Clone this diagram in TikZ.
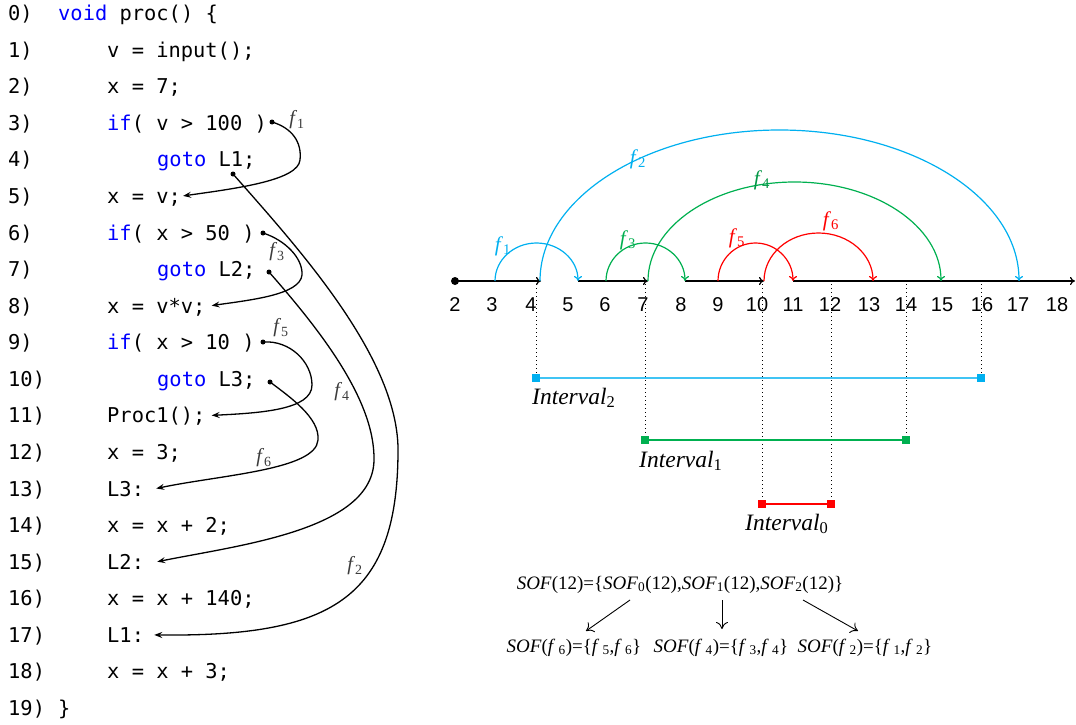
\documentclass[tikz,border=0pt]{standalone}
\usepackage{fontspec}
\setmainfont{Liberation Serif}
\setmonofont{DejaVu Sans Mono}
\newfontfamily\numfont{Liberation Sans}
\usetikzlibrary{arrows.meta,calc}

\definecolor{kwblue}{RGB}{0,0,255}
\definecolor{fblue}{RGB}{0,176,240}
\definecolor{fgreen}{RGB}{0,176,80}
\definecolor{fred}{RGB}{255,0,0}
\definecolor{lblgray}{RGB}{60,60,60}

\newcommand{\kwd}[1]{\textcolor{kwblue}{#1}}
\newcommand{\fsub}[1]{\textit{f}\textsubscript{#1}}
\newcommand{\sof}{\textit{SOF}}

\tikzset{
  codeline/.style={anchor=west, inner sep=0pt, text height=15pt, text depth=0pt,
    font=\fontsize{20.4}{24}\selectfont\ttfamily},
  flowdot/.style={circle, fill=black, inner sep=0pt, minimum size=5pt},
  codearrow/.style={line width=1.3pt, -{Stealth[length=8pt,width=6pt,inset=3pt]}},
  codelbl/.style={text=lblgray, font=\fontsize{20}{22}\selectfont},
  numlbl/.style={font=\fontsize{20}{22}\selectfont\numfont, inner sep=0pt},
  axisline/.style={line width=1.2pt, -{To[length=5pt,width=8pt]}},
  arcarrow/.style={line width=1.2pt, -{To[length=5pt,width=8pt]}},
  arclbl/.style={font=\fontsize{21}{23}\selectfont, inner sep=0pt},
  guide/.style={line width=0.8pt, dash pattern=on 1pt off 3pt},
  endsq/.style={rectangle, inner sep=0pt, minimum size=8pt},
  intlbl/.style={anchor=base west, inner sep=0pt, font=\fontsize{23.5}{25}\selectfont},
  soflbl/.style={anchor=base, inner sep=0pt, font=\fontsize{19}{21}\selectfont},
  sofarrow/.style={line width=0.9pt, -{To[length=7pt,width=12pt]}}
}

\begin{document}
\begin{tikzpicture}[x=1pt,y=-1pt]
\useasboundingbox (0,0) rectangle (1076,725);
\fill[white] (0,0) rectangle (1076,725);

% ---------- source listing ----------
\node[codeline] (n0)  at (8,13.0)  {0)};
\node[codeline] (n1)  at (8,49.6)  {1)};
\node[codeline] (n2)  at (8,86.2)  {2)};
\node[codeline] (n3)  at (8,122.7) {3)};
\node[codeline] (n4)  at (8,159.3) {4)};
\node[codeline] (n5)  at (8,195.9) {5)};
\node[codeline] (n6)  at (8,232.5) {6)};
\node[codeline] (n7)  at (8,269.1) {7)};
\node[codeline] (n8)  at (8,305.6) {8)};
\node[codeline] (n9)  at (8,342.2) {9)};
\node[codeline] (n10) at (8,378.8) {10)};
\node[codeline] (n11) at (8,415.4) {11)};
\node[codeline] (n12) at (8,452.0) {12)};
\node[codeline] (n13) at (8,488.5) {13)};
\node[codeline] (n14) at (8,525.1) {14)};
\node[codeline] (n15) at (8,561.7) {15)};
\node[codeline] (n16) at (8,598.3) {16)};
\node[codeline] (n17) at (8,634.9) {17)};
\node[codeline] (n18) at (8,671.4) {18)};
\node[codeline] (n19) at (8,708.0) {19)};

\node[codeline] (c0)  at (58,13.0)   {\kwd{void} proc() \{};
\node[codeline] (c1)  at (107,49.6)  {v = input();};
\node[codeline] (c2)  at (107,86.2)  {x = 7;};
\node[codeline] (c3)  at (107,122.7) {\kwd{if}( v > 100 )};
\node[codeline] (c4)  at (157,159.3) {\kwd{goto} L1;};
\node[codeline] (c5)  at (107,195.9) {x = v;};
\node[codeline] (c6)  at (107,232.5) {\kwd{if}( x > 50 )};
\node[codeline] (c7)  at (157,269.1) {\kwd{goto} L2;};
\node[codeline] (c8)  at (107,305.6) {x = v*v;};
\node[codeline] (c9)  at (107,342.2) {\kwd{if}( x > 10 )};
\node[codeline] (c10) at (157,378.8) {\kwd{goto} L3;};
\node[codeline] (c11) at (107,415.4) {Proc1();};
\node[codeline] (c12) at (107,452.0) {x = 3;};
\node[codeline] (c13) at (107,488.5) {L3:};
\node[codeline] (c14) at (107,525.1) {x = x + 2;};
\node[codeline] (c15) at (107,561.7) {L2:};
\node[codeline] (c16) at (107,598.3) {x = x + 140;};
\node[codeline] (c17) at (107,634.9) {L1:};
\node[codeline] (c18) at (107,671.4) {x = x + 3;};
\node[codeline] (c19) at (58,708.0)  {\}};

% jump sources
\node[flowdot] (d1) at (272,122) {};
\node[flowdot] (d2) at (233,174) {};
\node[flowdot] (d3) at (263,233) {};
\node[flowdot] (d4) at (269,272) {};
\node[flowdot] (d5) at (263,342) {};
\node[flowdot] (d6) at (270,382) {};

% jump edges
\draw[codearrow] (d1.center) .. controls (292,128) and (302,142) .. (300,160)
  .. controls (298,180) and (240,188) .. ([xshift=2pt]c5.east);
\draw[codearrow] (d3.center) .. controls (285,240) and (303,258) .. (302,275)
  .. controls (300,295) and (250,300) .. ([xshift=6pt]c8.east);
\draw[codearrow] (d5.center) .. controls (290,340) and (312,362) .. (312,385)
  .. controls (312,410) and (260,413) .. ([xshift=6pt]c11.east);
\draw[codearrow] (d6.center) .. controls (290,397) and (320,418) .. (318,440)
  .. controls (316,470) and (220,475) .. ([xshift=12pt]c13.east);
\draw[codearrow] (d4.center) .. controls (320,330) and (375,400) .. (374,460)
  .. controls (373,530) and (240,545) .. ([xshift=13pt]c15.east);
\draw[codearrow] (d2.center) .. controls (300,250) and (400,360) .. (398,453)
  .. controls (397,600) and (330,637) .. ([xshift=10pt]c17.east);

\node[codelbl] (lf1) at (297,120) {\fsub{1}};
\node[codelbl] (lf3) at (277,252) {\fsub{3}};
\node[codelbl] (lf5) at (281,328) {\fsub{5}};
\node[codelbl] (lf4) at (342,392) {\fsub{4}};
\node[codelbl] (lf6) at (264,458) {\fsub{6}};
\node[codelbl] (lf2) at (355,566) {\fsub{2}};

% ---------- number line ----------
\foreach \n/\x in {2/455,3/495,4/540,5/578,6/606,7/648,8/685,9/718,10/764,
                   11/793,12/832,13/873,14/907,15/941,16/982,17/1019,18/1057}
  \coordinate (p\n) at (\x,281);
\coordinate (axisend) at (1075,281);

\foreach \n/\x in {2/455,3/492,4/531,5/568,6/605,7/643,8/681,9/718,10/757,
                   11/793,12/830,13/869,14/906,15/942,16/982,17/1018,18/1057}
  \node[numlbl] (t\n) at (\x,305) {\n};

% interval bars with their end markers
\node[endsq, fill=fblue]  (i2l) at (536,378) {};
\node[endsq, fill=fblue]  (i2r) at (981,378) {};
\node[endsq, fill=fgreen] (i1l) at (645,440) {};
\node[endsq, fill=fgreen] (i1r) at (906,440) {};
\node[endsq, fill=fred]   (i0l) at (762,504) {};
\node[endsq, fill=fred]   (i0r) at (831,504) {};

\foreach \s in {i2l,i2r,i1l,i1r,i0l,i0r}
  \draw[guide] ([yshift=-3pt]\s.center |- p2) -- (\s.center);

\draw[fblue!75, line width=2.2pt] (i2l) -- (i2r);
\draw[fgreen, line width=1.5pt] (i1l) -- (i1r);
\draw[fred, line width=1.5pt] (i0l) -- (i0r);
\node[endsq, fill=fblue]  at (i2l) {};
\node[endsq, fill=fblue]  at (i2r) {};
\node[endsq, fill=fgreen] at (i1l) {};
\node[endsq, fill=fgreen] at (i1r) {};
\node[endsq, fill=fred]   at (i0l) {};
\node[endsq, fill=fred]   at (i0r) {};

\node[intlbl] (li2) at (532,404) {\textit{Interval}\textsubscript{2}};
\node[intlbl] (li1) at (639,467) {\textit{Interval}\textsubscript{1}};
\node[intlbl] (li0) at (745,530) {\textit{Interval}\textsubscript{0}};

% axis pieces
\fill (p2) circle (4pt);
\draw[axisline] (p2) -- ([xshift=1pt]p4);
\draw[axisline] (p5) -- (p7);
\draw[axisline] (p8) -- (p10);
\draw[axisline] (p11) -- (axisend);

% flow arcs
\draw[arcarrow, fblue]  (p3)  arc[start angle=180, end angle=0, x radius=41.5pt,  y radius=38pt];
\draw[arcarrow, fblue]  (p4)  arc[start angle=180, end angle=0, x radius=239.5pt, y radius=151pt];
\draw[arcarrow, fgreen] (p6)  arc[start angle=180, end angle=0, x radius=39.5pt,  y radius=38pt];
\draw[arcarrow, fgreen] (p7)  arc[start angle=180, end angle=0, x radius=146.5pt, y radius=99pt];
\draw[arcarrow, fred]   (p9)  arc[start angle=180, end angle=0, x radius=37.5pt,  y radius=38pt];
\draw[arcarrow, fred]   (p10) arc[start angle=180, end angle=0, x radius=54.5pt,  y radius=48pt];

\node[arclbl, text=fblue]       (af1) at (503,246) {\fsub{1}};
\node[arclbl, text=fblue]       (af2) at (638,159) {\fsub{2}};
\node[arclbl, text=fgreen]      (af3) at (628,240) {\fsub{3}};
\node[arclbl, text=fgreen!85!black] (af4) at (762,180) {\fsub{4}};
\node[arclbl, text=fred]        (af5) at (737,238) {\fsub{5}};
\node[arclbl, text=fred]        (af6) at (831,221) {\fsub{6}};

% ---------- SOF decomposition ----------
\node[soflbl] (sof) at (680,589)
  {\sof(12)=\{\sof\textsubscript{0}(12),\sof\textsubscript{1}(12),\sof\textsubscript{2}(12)\}};
\node[soflbl] (sof6) at (574,652) {\sof(\textit{f}\,\textsubscript{6})=\{\textit{f}\,\textsubscript{5},\textit{f}\,\textsubscript{6}\}};
\node[soflbl] (sof4) at (721,652) {\sof(\textit{f}\,\textsubscript{4})=\{\textit{f}\,\textsubscript{3},\textit{f}\,\textsubscript{4}\}};
\node[soflbl] (sof2) at (865,652) {\sof(\textit{f}\,\textsubscript{2})=\{\textit{f}\,\textsubscript{1},\textit{f}\,\textsubscript{2}\}};

\draw[sofarrow] ($(sof.base)+(-50,11)$) -- ($(sof6.base)+(12,-21)$);
\draw[sofarrow] ($(sof.base)+(42,11)$)  -- ($(sof4.base)+(1,-23)$);
\draw[sofarrow] ($(sof.base)+(123,11)$) -- ($(sof2.base)+(-7,-21)$);
\end{tikzpicture}
\end{document}
